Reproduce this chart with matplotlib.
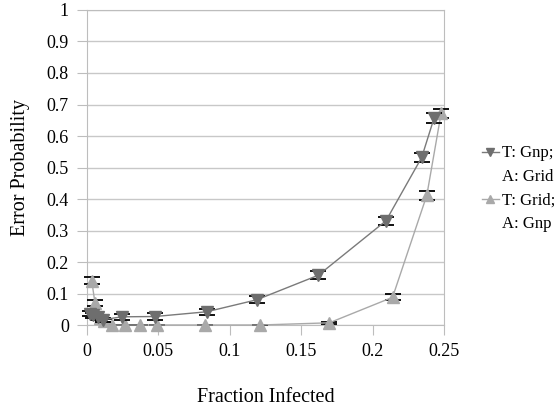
import matplotlib.pyplot as plt
from matplotlib.lines import Line2D

plt.rcParams['font.family'] = ['Liberation Serif', 'DejaVu Serif']

# T: Gnp; A: Grid  (down triangles)
gnp_x = [0.002, 0.0044, 0.008, 0.0114, 0.0243, 0.0476, 0.0838, 0.1188, 0.162, 0.2094, 0.2344, 0.243]
gnp_y = [0.036, 0.031, 0.024, 0.017, 0.026, 0.027, 0.042, 0.08, 0.158, 0.331, 0.532, 0.656]
gnp_err = [0.008, 0.008, 0.007, 0.006, 0.01, 0.01, 0.01, 0.011, 0.012, 0.013, 0.014, 0.016]

# T: Grid; A: Gnp  (up triangles)
grid_x = [0.0033, 0.0056, 0.009, 0.012, 0.0177, 0.0266, 0.037, 0.049, 0.0826, 0.121, 0.1697, 0.214, 0.238, 0.248]
grid_y = [0.141, 0.069, 0.022, 0.014, 0.0, 0.0, 0.0, 0.0, 0.0, 0.0, 0.007, 0.088, 0.412, 0.672]
grid_err = [0.012, 0.01, 0.006, 0.005, 0.0, 0.0, 0.0, 0.0, 0.0, 0.0, 0.004, 0.01, 0.015, 0.015]

fig = plt.figure(figsize=(5.56, 4.08), dpi=100)
ax = fig.add_axes([0.1565, 0.2034, 0.642, 0.7721])

c1 = '#6e6e6e'
c2 = '#a9a9a9'

ax.errorbar(grid_x, grid_y, yerr=grid_err, color=c2, lw=1, marker='^', ms=9,
            mec=c2, mfc=c2, ecolor='black', elinewidth=1, capsize=6, capthick=1.3,
            zorder=3, clip_on=False)
ax.errorbar(gnp_x, gnp_y, yerr=gnp_err, color='#7a7a7a', lw=1, marker='v', ms=9,
            mec=c1, mfc=c1, ecolor='black', elinewidth=1, capsize=6, capthick=1.3,
            zorder=4, clip_on=False)

ax.set_xlim(0, 0.25)
ax.set_ylim(0, 1)
ax.set_xticks([0, 0.05, 0.1, 0.15, 0.2, 0.25])
ax.set_xticklabels(['0', '0.05', '0.1', '0.15', '0.2', '0.25'])
ax.set_yticks([i / 10 for i in range(11)])
ax.set_yticklabels(['0', '0.1', '0.2', '0.3', '0.4', '0.5', '0.6', '0.7', '0.8', '0.9', '1'])
ax.yaxis.grid(True, color='#c8c8c8', lw=1)
ax.set_axisbelow(True)
for s in ax.spines.values():
    s.set_color('#bdbdbd')
ax.tick_params(axis='both', color='#bdbdbd', length=7, labelsize=13, pad=6)

ax.set_xlabel('Fraction Infected', fontsize=14.5, labelpad=20)
ax.set_ylabel('Error Probability', fontsize=14.5, labelpad=12)

h1 = Line2D([], [], color='#7a7a7a', lw=1, marker='v', ms=6, mfc=c1, mec=c1)
h2 = Line2D([], [], color=c2, lw=1, marker='^', ms=6, mfc=c2, mec=c2)
blank = Line2D([], [], linestyle='none')
fig.legend([h1, blank, h2, blank], ['T: Gnp;', 'A: Grid', 'T: Grid;', 'A: Gnp'],
           loc='upper left', bbox_to_anchor=(0.855, 0.66), frameon=False,
           fontsize=12, handlelength=1.0, handletextpad=0.2, labelspacing=0.45,
           borderaxespad=0)

fig.savefig('out.png', dpi=100)
